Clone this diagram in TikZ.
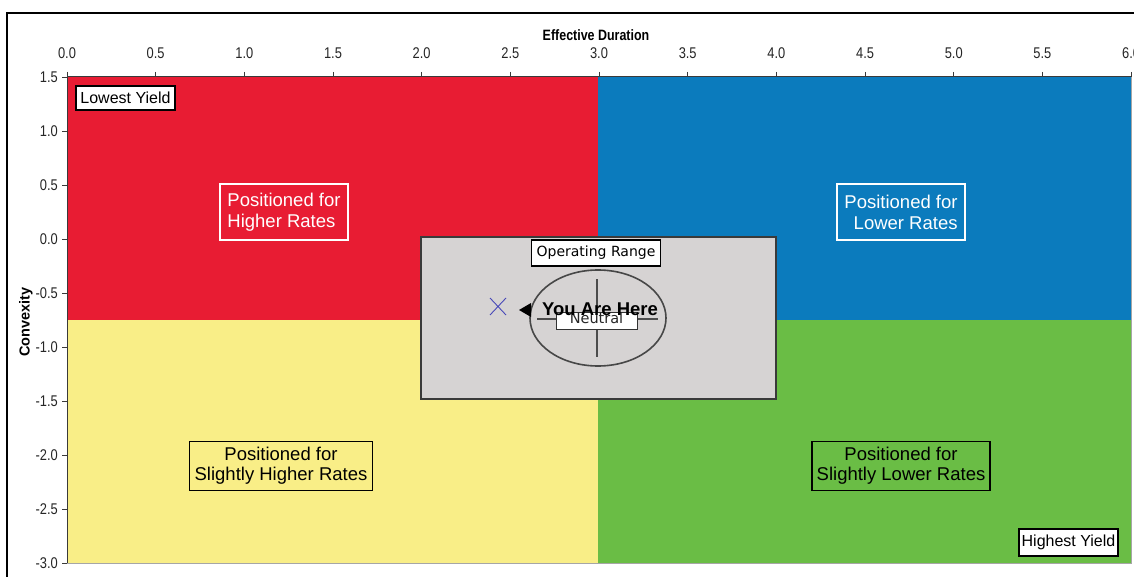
\documentclass[tikz,border=0pt]{standalone}
\usepackage{fontspec}
\setmainfont{Liberation Sans}
\newfontfamily\narrowfont[FakeStretch=0.83]{Liberation Sans}
\newfontfamily\dvfont{DejaVu Sans}
\usetikzlibrary{shapes.geometric}
\newcommand{\fsz}[1]{\fontsize{#1}{#1}\selectfont}
\newcommand{\fszb}[2]{\fontsize{#1}{#2}\selectfont}
\definecolor{qred}{HTML}{E81C33}
\definecolor{qblue}{HTML}{0B7BBD}
\definecolor{qyellow}{HTML}{F9EE87}
\definecolor{qgreen}{HTML}{6ABD45}
\definecolor{qgray}{HTML}{D6D3D3}
\definecolor{edgegray}{HTML}{3A3A3A}
\definecolor{xblue}{HTML}{4848B8}
\begin{document}
\begin{tikzpicture}[x=1pt,y=-1pt,
  ticklab/.style={font=\narrowfont\fsz{15.5}, text=black!85, inner sep=0pt},
  whitebox/.style={draw=white, line width=1.1pt, text=white, font=\fszb{18.5}{21}, inner sep=0pt, minimum width=128pt, minimum height=56pt},
  blackbox/.style={draw=black, line width=1.3pt, text=black, font=\fszb{18.5}{20}, inner sep=0pt, align=center, minimum height=49pt},
  cornerbox/.style={draw=black, fill=white, line width=1.3pt, font=\fsz{16}, inner sep=0pt, minimum width=99pt},
  tahomabox/.style={draw=black, fill=white, line width=1.1pt, font=\dvfont\fsz{14}, inner xsep=5pt}
]
\useasboundingbox (0,0) rectangle (1134,577);
\fill[white] (0,0) rectangle (1134,577);
% outer frame
\draw[line width=2.2pt] (7,600) -- (7,13) -- (1150,13);
% quadrants
\fill[qred] (67,77) rectangle (598,320);
\fill[qblue] (598,77) rectangle (1131,320);
\fill[qyellow] (67,320) rectangle (598,563);
\fill[qgreen] (598,320) rectangle (1131,563);
\draw[black!35, line width=0.8pt] (67,563) -- (1131,563) -- (1131,77);
\draw[edgegray, line width=1pt] (67,563) -- (67,77) -- (1131,77);
% ticks and tick labels
\foreach \i/\lab in {0/0.0,1/0.5,2/1.0,3/1.5,4/2.0,5/2.5,6/3.0,7/3.5,8/4.0,9/4.5,10/5.0,11/5.5,12/6.0}{
  \draw[edgegray, line width=0.8pt] ({67+88.67*\i},72) -- ({67+88.67*\i},77);
  \node[ticklab] (tx\i) at ({67+88.67*\i},53) {\lab};
}
\foreach \i/\lab in {0/1.5,1/1.0,2/0.5,3/0.0,4/-0.5,5/-1.0,6/-1.5,7/-2.0,8/-2.5,9/-3.0}{
  \draw[edgegray, line width=0.8pt] (62,{77+54*\i}) -- (67,{77+54*\i});
  \node[ticklab, anchor=east] (ty\i) at (58,{77+54*\i}) {\lab};
}
\node[font=\narrowfont\bfseries\fsz{15}, inner sep=0pt] (xtitle) at (596,35) {Effective Duration};
\node[font=\bfseries\fsz{14.5}, rotate=90, inner sep=0pt] (ytitle) at (26,322) {Convexity};
% quadrant labels
\node[cornerbox, minimum height=24pt] (lowest) at (125.5,98) {Lowest Yield};
\node[cornerbox, minimum height=27pt] (highest) at (1068.5,542.5) {Highest Yield};
\node[whitebox, align=left] (higher) at (284,212) {Positioned for\\Higher Rates};
\node[whitebox, align=right] (lower) at (901,212) {Positioned for\\Lower Rates};
\node[blackbox, minimum width=183pt] (slhigher) at (281,466) {Positioned for\\Slightly Higher Rates};
\node[blackbox, minimum width=178pt] (sllower) at (901,466) {Positioned for\\Slightly Lower Rates};
% operating range box
\draw[fill=qgray, draw=edgegray, line width=1.5pt] (421,237) rectangle (776,399);
\node[tahomabox, minimum width=126pt, minimum height=26pt, inner ysep=0pt] (oprange) at (596,253) {Operating Range};
\node[ellipse, draw=black!72, line width=1.6pt, minimum width=136pt, minimum height=96pt, inner sep=0pt] (ell) at (598,318) {};
\draw[black!70, line width=1.8pt] (597,279) -- (597,357);
\draw[black!70, line width=1.8pt] (537,319) -- (658,319);
\node[draw=black!80, fill=white, line width=1pt, minimum width=81pt, minimum height=17pt, inner sep=0pt] (neutralbox) at (596.5,320.5) {};
\node[font=\dvfont\fsz{14.5}, inner sep=0pt, text=black!85] (neutral) at (596.5,318) {Neutral};
\node[font=\bfseries\fsz{18.5}, inner sep=0pt] (here) at (600,309) {You Are Here};
\fill[black] (519,310) -- (531,303) -- (531,317) -- cycle;
% current position marker
\draw[xblue, line width=0.9pt] (490,298) -- (506,315) (490,315) -- (506,298);
\end{tikzpicture}
\end{document}
